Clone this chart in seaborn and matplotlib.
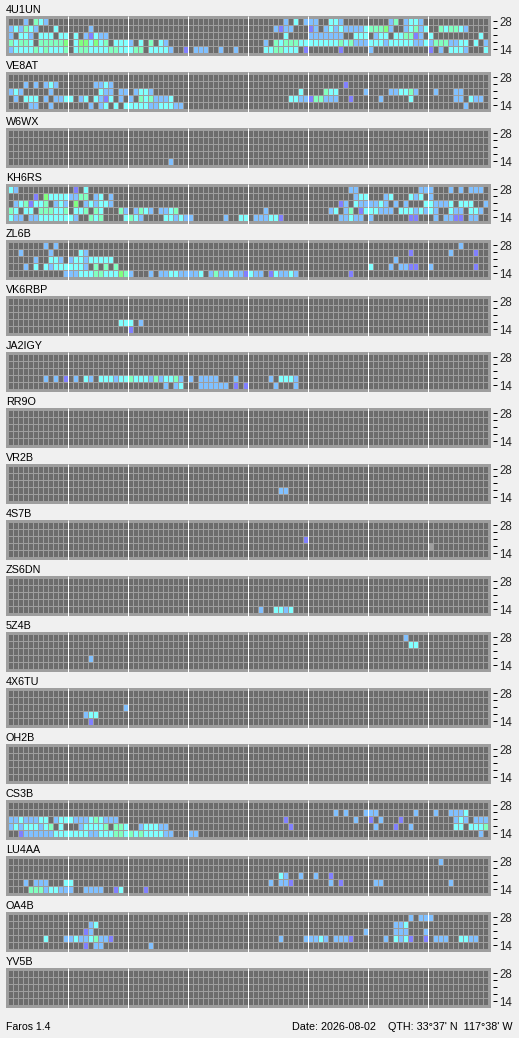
import numpy as np
import pandas as pd
import matplotlib
matplotlib.use("Agg")
import matplotlib.pyplot as plt
from matplotlib.colors import ListedColormap
from matplotlib.patches import Rectangle
import seaborn as sns

W, H = 519, 1038
FRAME = "#9E9E9E"
BG = "#F0F0F0"
CELL = "#6C6C6C"
COLORS = [CELL, "#8080FF", "#80C0FF", "#80FFFF", "#80FFC0", "#80FF80", "#9E9E9E"]
LEVEL = dict(p=1, b=2, c=3, t=4, g=5, x=6)

BAND_LABELS = ["28", "", "", "", "14"]
SLOTS = 96
HOUR_LINES = [12, 24, 36, 48, 60, 72, 84]

U4U1UN = [
    "3b 5t 6c 7b 55b 57c 59b 60b 61b 64c 65c 66b 76b 77t 79b 80c 81c 82b",
    "0b 1c 2b 3t 4c 5b 9c 16b 53b 54p 55b 56b 60p 61b 63b 64c 65b 66c 67b 68b 69b 70b 71c 72t 73t 74t 75g 76b 79b 80c 81t 82b 83c 86t 87c 88t 89t 90c 91b",
    "0b 2c 3c 4b 6c 7c 8c 10c 11c 13c 15b 16p 17c 18b 19b 55c 60b 61b 62b 63b 64b 65b 66b 69c 70c 71c 73b 74c 75c 77c 78c 79t 80t 81p 82b 84c 94c",
    "0t 1c 2t 3t 4c 6t 7t 8t 9t 10t 11g 13c 14g 15g 16c 17g 18c 19t 21c 22c 23c 24b 26c 28t 30c 31b 51b 53t 54c 55t 56t 57t 58c 59c 60c 61c 62c 63c 64c 65c 66t 67c 68t 69b 70b 71b 72c 73c 74c 75b 76c 77c 78c 79c 80c 81b 82b 83c 84b 85t 86t 87t 88b 89b 90c 91c 93c 95b",
    "0b 1c 2c 3c 4c 5t 6c 7t 8c 9c 10c 11t 13c 14t 15t 16c 17c 18c 19c 20t 21t 22c 23c 24c 25t 26t 28c 29c 30c 31c 32b 35p 37b 38b 39b 42b 45b 51c 52c 53t 54t 55c 56c 57c 59p 66p 72b 84p 86b 88c 89c 90c 91b 95c",
]
VE8AT = [
    "",
    "3b 5b 7b 8c 9b 17b 18b 19c 20b 67p",
    "0b 1c 2b 8b 18c 19b 20b 22b 23b 25b 26c 27c 28b 58c 63t 64c 65c 71b 76b 77b 78c 79c 80t 81b 85b 89b 90b",
    "1b 3c 4c 5c 7b 9b 10b 11c 12c 14b 15c 17c 18b 19p 20c 22b 24b 26t 27c 28t 29b 30b 31b 32c 56c 57c 58b 59b 60p 61t 62t 63b 64b 65b 68p 74b 80c 89b 90b 92c 93b 94b",
    "4b 5b 8b 16b 18b 19c 21c 23c 24c 25c 26c 27c 28b 29b 30c 31c 32c 33b 34b 91b",
]
W6WX = ["", "", "", "", "32b"]
KH6RS = [
    "0c 1b 13p 15c 68b 69b 82b 83b 84b 88b 90b 92b 93b 94b",
    "5p 7g 8c 9c 10c 11c 12b 13b 14t 15t 17b 18c 20b 69b 70c 71c 75b 76c 80c 81b 82c 84b",
    "1b 2c 3t 4p 5c 6c 7t 9b 10c 11b 13g 15b 16c 17b 18c 19c 20b 66p 67b 69c 70b 71b 72b 73b 74c 75b 77b 79b 83c 84c 85b 86b 87b 88c 90c 91c 92c 95b",
    "0t 1c 3c 4c 6t 7t 8t 9c 10c 11t 13c 14c 15t 17t 18c 22t 23b 25b 26t 27c 28b 30b 31b 32c 33t 51b 64b 65c 67b 68t 70p 71c 72c 73c 74b 75b 76b 78c 79c 80c 81b 82c 83b 84c 85b 88c 89b 90b 92c 93c 94b",
    "0c 1b 2b 4b 5b 6c 7c 8c 9c 10c 11c 12c 13b 16t 17c 18t 23c 24t 25c 26b 31c 32c 33b 34c 35b 36b 43b 46c 47c 49b 50b 51b 52c 53c 54p 66b 67b 68c 69b 70b 72b 80p 81p 85b 87b 88b 89p 90p 92b 93b",
]
ZL6B = [
    "7b 9b 90b",
    "2b 8b 14c 15b 80p 88b 93p",
    "5b 8c 9c 10b 12b 13c 14c 15b 16c 17c 18c 19c 20c 77b",
    "3b 5c 7c 8b 9c 10c 11c 12c 13c 14c 15b 17t 19t 21t 72c 76b 78b 79b 80p 81p 84b 93p",
    "11b 12b 13b 14c 15c 16c 17t 18t 19c 20c 21c 22g 23t 24b 28b 30b 31b 32c 33c 34b 35b 36b 37b 38c 40b 41t 42b 43b 44c 45b 46b 47p 48c 49b 50b 52p 53c 54b 55b 56c 57b 68p",
]
VK6RBP = ["", "", "", "22c 23c 24c 26b", "24p"]
JA2IGY = [
    "",
    "",
    "",
    "7b 9b 11p 13b 15c 16b 18c 19c 20c 21b 22c 23c 24t 25c 26c 27c 28b 29t 30b 31c 32c 33t 34b 36b 38b 39b 40b 41b 45b 52b 54c 55c 56c 57b",
    "31b 33b 34c 38b 39b 40b 41b 42b 43b 45p 47p 53b 57b",
]
RR9O = ["", "", "", "", ""]
VR2B = ["", "", "", "54b 55b", ""]
S4S7B = ["", "", "59p", "84x", ""]
ZS6DN = ["", "", "", "", "50b 53c 54c 55b 56c"]
Z5Z4B = ["79b", "80c 81c", "", "16b", ""]
X4X6TU = ["", "", "23b", "15b 16c 17c", "16p"]
OH2B = ["", "", "", "", ""]
CS3B = [
    "",
    "65b 67b 71b 72b 73b 81b 85b 88b 89b 90b 91c",
    "0b 1b 2c 3b 4b 5b 6c 7c 9b 10c 11c 12c 13b 14b 15b 16c 17t 18c 19b 20b 21b 55p 69b 72p 74b 78p 89b 90c 91b 93b 94b 95b",
    "0b 1c 2b 3c 4c 5c 6b 7c 8t 10c 14b 15c 16c 17c 18c 19t 21t 22t 23c 26b 27c 28c 29c 30b 31b 56p 73b 77p 80b 89c 90c 92c 93c 94c 95t",
    "2p 3b 4b 5b 6b 7b 8b 9c 10c 11c 12c 13c 14c 15c 16b 17b 18c 19c 20c 21t 22t 23c 24t 25c 26t 27c 28c 29c 30c 31b 32b 36b 37b 94b",
]
LU4AA = [
    "86b",
    "",
    "54c 55b 58b 61b 64p",
    "3b 5b 6b 7b 11c 12c 52b 54b 55b 56p 64b 66p 73b 74b 88b",
    "4t 5t 6t 7b 8c 9c 10b 11b 12b 15b 16b 17b 18b 21p 22c 27p",
]
OA4B = [
    "80b 82b 83b 84b",
    "16b 17c 77b 78b 79c",
    "15p 16b 71b 77b 78b 79b 83b",
    "7c 11b 12b 13c 14b 15b 16c 17t 18b 19b 20p 54b 59b 60b 61b 62c 63b 65b 66b 67b 68p 75b 77c 78b 79c 80p 83p 85b 86b 87b 90c 91c 92b 93b",
    "15p 17b 18b 28b",
]
YV5B = ["", "", "", "", ""]

STATIONS = [
    ("4U1UN", U4U1UN), ("VE8AT", VE8AT), ("W6WX", W6WX), ("KH6RS", KH6RS),
    ("ZL6B", ZL6B), ("VK6RBP", VK6RBP), ("JA2IGY", JA2IGY), ("RR9O", RR9O),
    ("VR2B", VR2B), ("4S7B", S4S7B), ("ZS6DN", ZS6DN), ("5Z4B", Z5Z4B),
    ("4X6TU", X4X6TU), ("OH2B", OH2B), ("CS3B", CS3B), ("LU4AA", LU4AA),
    ("OA4B", OA4B), ("YV5B", YV5B),
]


def decode(rows):
    grid = np.zeros((len(rows), SLOTS), dtype=int)
    for r, row in enumerate(rows):
        for tok in row.split():
            grid[r, int(tok[:-1])] = LEVEL[tok[-1]]
    return pd.DataFrame(grid)


sns.set_theme(style="white")
plt.rcParams["font.family"] = ["Liberation Sans", "DejaVu Sans"]

fig = plt.figure(figsize=(W / 72, H / 72), dpi=72, facecolor=BG)
cmap = ListedColormap(COLORS)

for i, (name, rows) in enumerate(STATIONS):
    top = 16 + 56 * i
    fig.add_artist(Rectangle((6 / W, 1 - (top + 40) / H), 485 / W, 40 / H,
                             transform=fig.transFigure, facecolor=FRAME,
                             edgecolor="none", zorder=-1))
    ax = fig.add_axes([7.6 / W, 1 - (top + 36.6) / H, 480 / W, 35 / H])
    ax.patch.set_alpha(0)
    sns.heatmap(decode(rows), ax=ax, cmap=cmap, vmin=-0.5, vmax=6.5, cbar=False,
                linewidths=1, linecolor=FRAME, xticklabels=False,
                yticklabels=BAND_LABELS, antialiased=False)
    ax.yaxis.tick_right()
    ax.spines["right"].set_position(("outward", 5.4))
    ax.tick_params(axis="y", which="major", direction="out", length=4, width=1,
                   color="black", labelsize=11.5, pad=2.5, labelrotation=0,
                   left=False, right=True, labelleft=False, labelright=True)
    ax.vlines(HOUR_LINES, -1.6 / 7, 5 + 3.4 / 7, color="white", linewidth=1,
              clip_on=False, zorder=5)
    ax.annotate(name, xy=(0, 1), xycoords="axes fraction", xytext=(-1.6, 4.9),
                textcoords="offset points", ha="left", va="baseline",
                fontsize=10.8, color="black")

fig.text(6 / W, 1 - 1030 / H, "Faros 1.4", fontsize=10.5, color="black", va="baseline")
fig.text(292 / W, 1 - 1030 / H, "Date: 2026-08-02", fontsize=10.8, color="black", va="baseline")
fig.text(388 / W, 1 - 1030 / H, "QTH: 33°37' N  117°38' W", fontsize=10.8, color="black", va="baseline")

fig.savefig("out.png", dpi=72, facecolor=BG)
